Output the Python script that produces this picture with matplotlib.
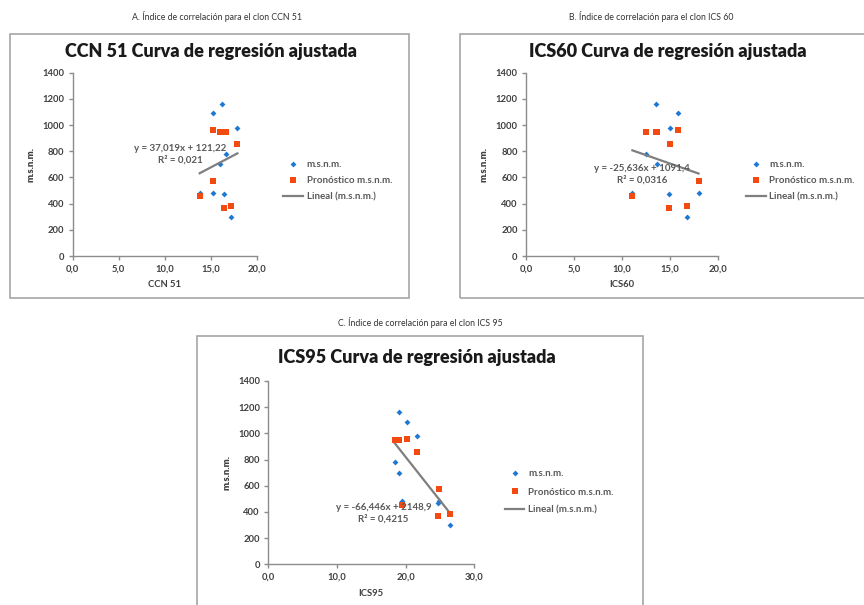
import matplotlib
matplotlib.use("Agg")
import matplotlib.pyplot as plt
from matplotlib.patches import Rectangle

plt.rcParams['font.family'] = ['Lato', 'DejaVu Sans']

# altitud observada y pronosticada de cada parcela
msnm = [1090, 1160, 980, 780, 700, 480, 480, 470, 300]
pronostico = [960, 950, 855, 950, 950, 455, 575, 370, 385]

# índice de cada clon en las mismas parcelas
ccn51 = [15.2, 16.2, 17.9, 16.7, 16.0, 13.8, 15.3, 16.4, 17.2]
ics60 = [15.9, 13.6, 15.0, 12.5, 13.7, 11.1, 18.0, 14.9, 16.8]
ics95 = [20.2, 19.0, 21.7, 18.4, 19.0, 19.5, 24.8, 24.7, 26.5]

# pendiente, intercepto, R²
fit_ccn51 = (37.019, 121.22, 0.021)
fit_ics60 = (-25.636, 1091.4, 0.0316)
fit_ics95 = (-66.446, 2148.9, 0.4215)

yticks = [0, 200, 400, 600, 800, 1000, 1200, 1400]

BLUE = '#1f78d1'
ORANGE = '#f24a10'
TXT = '#404040'
AXC = '#8c8c8c'


def dec(v):
    return f"{v:g}".replace('.', ',')


def panel(fig, rect, x, fit, xlabel, title, xmax, xstep, eq_pos, leg_pos,
          title_y, legspace=0.75):
    ax = fig.add_axes(rect)
    ax.plot(x, msnm, 'D', color=BLUE, ms=3.0, mew=0, zorder=3, label='m.s.n.m.')
    m, b, r2 = fit
    x0, x1 = min(x), max(x)
    ax.plot([x0, x1], [m * x0 + b, m * x1 + b], color='#7f7f7f', lw=1.6,
            zorder=3.5, label='Lineal (m.s.n.m.)')
    ax.plot(x, pronostico, 's', color=ORANGE, ms=4.3, mew=0, zorder=4,
            label='Pronóstico m.s.n.m.')

    ax.set_xlim(0, xmax)
    ax.set_ylim(0, 1400)
    xt = [i * xstep for i in range(int(round(xmax / xstep)) + 1)]
    ax.set_xticks(xt)
    ax.set_xticklabels([f"{v:.1f}".replace('.', ',') for v in xt])
    ax.set_yticks(yticks)
    for s in ('top', 'right'):
        ax.spines[s].set_visible(False)
    for s in ('left', 'bottom'):
        ax.spines[s].set_color(AXC)
        ax.spines[s].set_linewidth(1.0)
    ax.tick_params(direction='out', length=3, width=1.0, color=AXC,
                   labelsize=6.8, labelcolor=TXT, pad=3)
    for lab in ax.get_xticklabels() + ax.get_yticklabels():
        lab.set_fontweight('bold')
    ax.set_xlabel(xlabel, fontsize=6.8, fontweight='bold', color=TXT, labelpad=5)
    ax.set_ylabel('m.s.n.m.', fontsize=6.8, fontweight='heavy', color=TXT, labelpad=5)

    eq = f"y = {dec(m)}x + {dec(b)}\nR² = {dec(r2)}"
    ax.text(eq_pos[0], eq_pos[1], eq, ha='center', va='center', fontsize=7,
            fontweight='bold', color='#595959', linespacing=1.3, zorder=5)

    handles, labels = ax.get_legend_handles_labels()
    order = [0, 2, 1]
    leg = ax.legend([handles[i] for i in order], [labels[i] for i in order],
                    loc='center left', bbox_to_anchor=leg_pos, frameon=False,
                    fontsize=7, handlelength=2.0, handletextpad=0.4,
                    labelspacing=legspace, borderpad=0, borderaxespad=0)
    for t in leg.get_texts():
        t.set_color('#595959')
        t.set_fontweight('bold')

    cx = rect[0] + rect[2] / 2 + 46 / 864
    fig.text(cx, title_y, title, ha='center', va='center', fontsize=13,
             fontweight='heavy', color='#1a1a1a')
    return ax


fig = plt.figure(figsize=(8.64, 6.05), dpi=100)
fig.patch.set_facecolor('white')

# marcos de cada gráfico
frame = dict(fill=False, edgecolor='#a6a6a6', lw=1.2, transform=fig.transFigure)
fig.patches.append(Rectangle((10 / 864, 1 - 298 / 605), 399 / 864, 264 / 605, **frame))
fig.patches.append(Rectangle((460 / 864, 1 - 298 / 605), 420 / 864, 264 / 605, **frame))
fig.patches.append(Rectangle((197 / 864, 1 - 625 / 605), 446 / 864, 289 / 605, **frame))

fig.text(217 / 864, 1 - 17 / 605, 'A. Índice de correlación para el clon CCN 51',
         ha='center', va='center', fontsize=6.3, color='#333333')
fig.text(651 / 864, 1 - 17 / 605, 'B. Índice de correlación para el clon ICS 60',
         ha='center', va='center', fontsize=6.3, color='#333333')
fig.text(420 / 864, 1 - 322 / 605, 'C. Índice de correlación para el clon ICS 95',
         ha='center', va='center', fontsize=6.3, color='#333333')

panel(fig, [72.7 / 864, 1 - 256 / 605, 184 / 864, 183.3 / 605], ccn51, fit_ccn51,
      'CCN 51', 'CCN 51 Curva de regresión ajustada', 20, 5, (11.7, 775),
      (1.145, 0.41), 1 - 52 / 605)
panel(fig, [526 / 864, 1 - 256 / 605, 191.7 / 864, 183.3 / 605], ics60, fit_ics60,
      'ICS60', 'ICS60 Curva de regresión ajustada', 20, 5, (12.1, 627),
      (1.148, 0.41), 1 - 52 / 605)
panel(fig, [268.3 / 864, 1 - 564.3 / 605, 206 / 864, 183.3 / 605], ics95, fit_ics95,
      'ICS95', 'ICS95 Curva de regresión ajustada', 30, 10, (16.8, 388),
      (1.149, 0.394), 1 - 357 / 605, legspace=0.95)

fig.savefig('out.png', dpi=100)
